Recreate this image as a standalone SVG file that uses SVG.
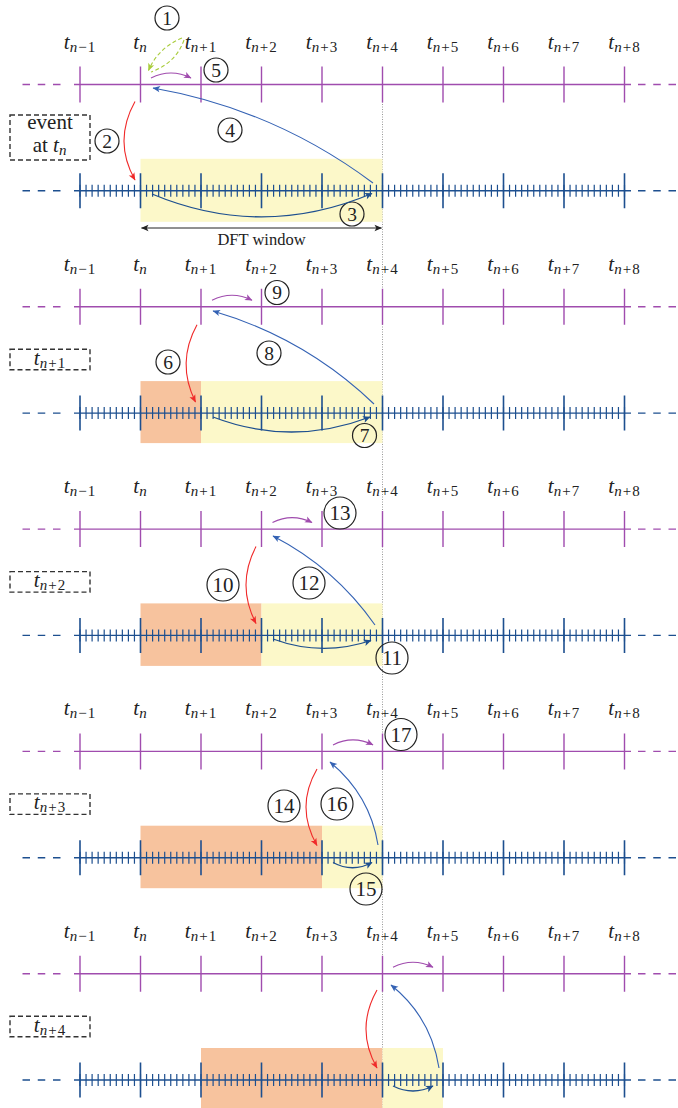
<svg xmlns="http://www.w3.org/2000/svg" xmlns:xlink="http://www.w3.org/1999/xlink" width="678" height="1108" viewBox="0 0 678 1108">
<style>
.p{stroke:#a04cae;stroke-width:1.4;fill:none}
.pd{stroke:#a04cae;stroke-width:1.4;stroke-dasharray:7.5 7.75;fill:none}
.b{stroke:#1d4f8f;stroke-width:1.4;fill:none}
.bd{stroke:#1d4f8f;stroke-width:1.4;stroke-dasharray:7.5 7.75;fill:none}
.bm{stroke:#1d4f8f;stroke-width:12;stroke-dasharray:1.2 4.85;fill:none}
.bM{stroke:#1d4f8f;stroke-width:1.6;fill:none}
.lbl{font-family:"Liberation Serif","Times New Roman",Times,"DejaVu Serif",serif;font-size:21px;text-anchor:middle;fill:#222}
.it{font-style:italic}
.sub{font-size:15px;letter-spacing:1px}
.box{fill:none;stroke:#333;stroke-width:1.4;stroke-dasharray:5 3}
.cn{fill:none;stroke:#222;stroke-width:1.2}
.num{font-family:"Liberation Serif","Times New Roman",Times,"DejaVu Serif",serif;font-size:19.5px;text-anchor:middle;fill:#222}
.num2{font-size:21px}
.dot{stroke:#999;stroke-width:1;stroke-dasharray:1 1.5;fill:none}
.yel{fill:#fcf8c9}
.org{fill:#f7c39e}
.cP{stroke:#a04cae;stroke-width:1.1;fill:none;marker-end:url(#aP)}
.cR{stroke:#f02a2a;stroke-width:1.1;fill:none;marker-end:url(#aR)}
.cB{stroke:#3462b4;stroke-width:1.1;fill:none;marker-end:url(#aB)}
.cN{stroke:#1d4f8f;stroke-width:1.3;fill:none;marker-end:url(#aN)}
.cG{stroke:#a9cc3c;stroke-width:1.1;fill:none;stroke-dasharray:4 2.5}
.cK{stroke:#222;stroke-width:1;fill:none;marker-end:url(#aK);marker-start:url(#aK)}
.dft{font-family:"Liberation Serif","Times New Roman",Times,"DejaVu Serif",serif;font-size:16.5px;text-anchor:middle;fill:#222}
</style>
<defs>
<marker id="aP" viewBox="-1 -4 9 8" refX="7" refY="0" markerWidth="9" markerHeight="8" markerUnits="userSpaceOnUse" orient="auto"><path d="M0,-3.2 L7.5,0 L0,3.2 L1.8,0 z" fill="#a04cae"/></marker>
<marker id="aR" viewBox="-1 -4 9 8" refX="7" refY="0" markerWidth="9" markerHeight="8" markerUnits="userSpaceOnUse" orient="auto"><path d="M0,-3.2 L7.5,0 L0,3.2 L1.8,0 z" fill="#f02a2a"/></marker>
<marker id="aB" viewBox="-1 -4 9 8" refX="7" refY="0" markerWidth="9" markerHeight="8" markerUnits="userSpaceOnUse" orient="auto"><path d="M0,-3.2 L7.5,0 L0,3.2 L1.8,0 z" fill="#3462b4"/></marker>
<marker id="aN" viewBox="-1 -4 9 8" refX="7" refY="0" markerWidth="9" markerHeight="8" markerUnits="userSpaceOnUse" orient="auto"><path d="M0,-3.4 L7.5,0 L0,3.4 L1.8,0 z" fill="#1d4f8f"/></marker>
<marker id="aG" viewBox="-1 -4 9 8" refX="7" refY="0" markerWidth="9" markerHeight="8" markerUnits="userSpaceOnUse" orient="auto"><path d="M0,-3.2 L7.5,0 L0,3.2 L1.8,0 z" fill="#a9cc3c"/></marker>
<marker id="aK" viewBox="-1 -4 9 8" refX="7" refY="0" markerWidth="9" markerHeight="8" markerUnits="userSpaceOnUse" orient="auto-start-reverse"><path d="M0,-3.2 L7.5,0 L0,3.2 L1.8,0 z" fill="#222"/></marker>
<g id="axP">
<path class="pd" d="M22.5,0 H62 M638,0 H678"/>
<path class="p" d="M74,0 H631"/>
<path class="p" d="M80,-18V18M140.5,-18V18M201,-18V18M261.5,-18V18M322,-18V18M382.5,-18V18M443,-18V18M503.5,-18V18M564,-18V18M624.5,-18V18"/>
</g>
<g id="axB">
<path class="bd" d="M22.5,0 H62 M638,0 H678"/>
<path class="b" d="M74,0 H631"/>
<path class="bm" d="M79.4,0 H626"/>
<path class="bM" d="M80,-17.5V17.5M140.5,-17.5V17.5M201,-17.5V17.5M261.5,-17.5V17.5M322,-17.5V17.5M382.5,-17.5V17.5M443,-17.5V17.5M503.5,-17.5V17.5M564,-17.5V17.5M624.5,-17.5V17.5"/>
</g>
</defs>
<rect width="678" height="1108" fill="#fff"/>
<path id="now-line" class="dot" d="M382.5,84 V1108"/>

<!-- Panel 1 -->
<g id="panel-1">
<rect class="yel" x="140.5" y="158.8" width="242" height="63"/>
<use xlink:href="#axP" href="#axP" y="84.5"/>
<use xlink:href="#axB" href="#axB" y="190.8"/>
<g id="labels-1">
<text class="lbl" x="80" y="48.5"><tspan class="it">t</tspan><tspan class="sub" dy="3"><tspan class="it">n</tspan>−1</tspan></text>
<text class="lbl" x="140.5" y="48.5"><tspan class="it">t</tspan><tspan class="sub it" dy="3">n</tspan></text>
<text class="lbl" x="201" y="48.5"><tspan class="it">t</tspan><tspan class="sub" dy="3"><tspan class="it">n</tspan>+1</tspan></text>
<text class="lbl" x="261.5" y="48.5"><tspan class="it">t</tspan><tspan class="sub" dy="3"><tspan class="it">n</tspan>+2</tspan></text>
<text class="lbl" x="322" y="48.5"><tspan class="it">t</tspan><tspan class="sub" dy="3"><tspan class="it">n</tspan>+3</tspan></text>
<text class="lbl" x="382.5" y="48.5"><tspan class="it">t</tspan><tspan class="sub" dy="3"><tspan class="it">n</tspan>+4</tspan></text>
<text class="lbl" x="443" y="48.5"><tspan class="it">t</tspan><tspan class="sub" dy="3"><tspan class="it">n</tspan>+5</tspan></text>
<text class="lbl" x="503.5" y="48.5"><tspan class="it">t</tspan><tspan class="sub" dy="3"><tspan class="it">n</tspan>+6</tspan></text>
<text class="lbl" x="564" y="48.5"><tspan class="it">t</tspan><tspan class="sub" dy="3"><tspan class="it">n</tspan>+7</tspan></text>
<text class="lbl" x="624.5" y="48.5"><tspan class="it">t</tspan><tspan class="sub" dy="3"><tspan class="it">n</tspan>+8</tspan></text>
</g>
<g id="box-1">
<rect class="box" x="10" y="115" width="80" height="45"/>
<text class="lbl" x="50" y="128.5">event</text>
<text class="lbl" x="50" y="151.7">at <tspan class="it">t</tspan><tspan class="sub it" dy="3">n</tspan></text>
</g>
<g id="dft-window">
<text class="dft" x="261.5" y="245">DFT window</text>
</g>
<g id="c1"><circle class="cn" cx="167" cy="18" r="12"/><text class="num" x="167" y="24.5">1</text></g>
<g id="c2"><circle class="cn" cx="107" cy="141" r="12"/><text class="num" x="107" y="147.5">2</text></g>
<g id="c3"><circle class="cn" cx="352" cy="214" r="12"/><text class="num" x="352" y="220.5">3</text></g>
<g id="c4"><circle class="cn" cx="230" cy="130" r="12"/><text class="num" x="230" y="136.5">4</text></g>
<g id="c5"><circle class="cn" cx="216" cy="70" r="12"/><text class="num" x="216" y="76.5">5</text></g>
</g>

<!-- Panel 2 -->
<g id="panel-2">
<rect class="org" x="140.5" y="381.1" width="60.5" height="62"/>
<rect class="yel" x="201" y="381.1" width="181.5" height="62"/>
<use xlink:href="#axP" href="#axP" y="306.8"/>
<use xlink:href="#axB" href="#axB" y="413.1"/>
<g id="labels-2">
<text class="lbl" x="80" y="270.8"><tspan class="it">t</tspan><tspan class="sub" dy="3"><tspan class="it">n</tspan>−1</tspan></text>
<text class="lbl" x="140.5" y="270.8"><tspan class="it">t</tspan><tspan class="sub it" dy="3">n</tspan></text>
<text class="lbl" x="201" y="270.8"><tspan class="it">t</tspan><tspan class="sub" dy="3"><tspan class="it">n</tspan>+1</tspan></text>
<text class="lbl" x="261.5" y="270.8"><tspan class="it">t</tspan><tspan class="sub" dy="3"><tspan class="it">n</tspan>+2</tspan></text>
<text class="lbl" x="322" y="270.8"><tspan class="it">t</tspan><tspan class="sub" dy="3"><tspan class="it">n</tspan>+3</tspan></text>
<text class="lbl" x="382.5" y="270.8"><tspan class="it">t</tspan><tspan class="sub" dy="3"><tspan class="it">n</tspan>+4</tspan></text>
<text class="lbl" x="443" y="270.8"><tspan class="it">t</tspan><tspan class="sub" dy="3"><tspan class="it">n</tspan>+5</tspan></text>
<text class="lbl" x="503.5" y="270.8"><tspan class="it">t</tspan><tspan class="sub" dy="3"><tspan class="it">n</tspan>+6</tspan></text>
<text class="lbl" x="564" y="270.8"><tspan class="it">t</tspan><tspan class="sub" dy="3"><tspan class="it">n</tspan>+7</tspan></text>
<text class="lbl" x="624.5" y="270.8"><tspan class="it">t</tspan><tspan class="sub" dy="3"><tspan class="it">n</tspan>+8</tspan></text>
</g>
<g id="box-2">
<rect class="box" x="10" y="349.3" width="80" height="20.5"/>
<text class="lbl" x="50" y="364.5"><tspan class="it">t</tspan><tspan class="sub" dy="3"><tspan class="it">n</tspan>+1</tspan></text>
</g>
<g id="c6"><circle class="cn" cx="168" cy="362" r="12"/><text class="num" x="168" y="368.5">6</text></g>
<g id="c7"><circle class="cn" cx="364.5" cy="435.5" r="12"/><text class="num" x="364.5" y="442">7</text></g>
<g id="c8"><circle class="cn" cx="269" cy="353" r="12"/><text class="num" x="269" y="359.5">8</text></g>
<g id="c9"><circle class="cn" cx="277" cy="292.5" r="12"/><text class="num" x="277" y="299">9</text></g>
</g>

<!-- Panel 3 -->
<g id="panel-3">
<rect class="org" x="140.5" y="603.4" width="121" height="62.5"/>
<rect class="yel" x="261.5" y="603.4" width="121" height="62.5"/>
<use xlink:href="#axP" href="#axP" y="529.1"/>
<use xlink:href="#axB" href="#axB" y="635.4"/>
<g id="labels-3">
<text class="lbl" x="80" y="493.1"><tspan class="it">t</tspan><tspan class="sub" dy="3"><tspan class="it">n</tspan>−1</tspan></text>
<text class="lbl" x="140.5" y="493.1"><tspan class="it">t</tspan><tspan class="sub it" dy="3">n</tspan></text>
<text class="lbl" x="201" y="493.1"><tspan class="it">t</tspan><tspan class="sub" dy="3"><tspan class="it">n</tspan>+1</tspan></text>
<text class="lbl" x="261.5" y="493.1"><tspan class="it">t</tspan><tspan class="sub" dy="3"><tspan class="it">n</tspan>+2</tspan></text>
<text class="lbl" x="322" y="493.1"><tspan class="it">t</tspan><tspan class="sub" dy="3"><tspan class="it">n</tspan>+3</tspan></text>
<text class="lbl" x="382.5" y="493.1"><tspan class="it">t</tspan><tspan class="sub" dy="3"><tspan class="it">n</tspan>+4</tspan></text>
<text class="lbl" x="443" y="493.1"><tspan class="it">t</tspan><tspan class="sub" dy="3"><tspan class="it">n</tspan>+5</tspan></text>
<text class="lbl" x="503.5" y="493.1"><tspan class="it">t</tspan><tspan class="sub" dy="3"><tspan class="it">n</tspan>+6</tspan></text>
<text class="lbl" x="564" y="493.1"><tspan class="it">t</tspan><tspan class="sub" dy="3"><tspan class="it">n</tspan>+7</tspan></text>
<text class="lbl" x="624.5" y="493.1"><tspan class="it">t</tspan><tspan class="sub" dy="3"><tspan class="it">n</tspan>+8</tspan></text>
</g>
<g id="box-3">
<rect class="box" x="10" y="571.6" width="80" height="20.5"/>
<text class="lbl" x="50" y="586.8"><tspan class="it">t</tspan><tspan class="sub" dy="3"><tspan class="it">n</tspan>+2</tspan></text>
</g>
<g id="c10"><circle class="cn" cx="223" cy="585" r="16"/><text class="num num2" x="223" y="592">10</text></g>
<g id="c11"><circle class="cn" cx="392" cy="658" r="16"/><text class="num num2" x="392" y="665">11</text></g>
<g id="c12"><circle class="cn" cx="309" cy="583" r="16"/><text class="num num2" x="309" y="590">12</text></g>
<g id="c13"><circle class="cn" cx="340" cy="513" r="16"/><text class="num num2" x="340" y="520">13</text></g>
</g>

<!-- Panel 4 -->
<g id="panel-4">
<rect class="org" x="140.5" y="825.7" width="181.5" height="62.5"/>
<rect class="yel" x="322" y="825.7" width="60.5" height="62.5"/>
<use xlink:href="#axP" href="#axP" y="751.4"/>
<use xlink:href="#axB" href="#axB" y="857.7"/>
<g id="labels-4">
<text class="lbl" x="80" y="715.4"><tspan class="it">t</tspan><tspan class="sub" dy="3"><tspan class="it">n</tspan>−1</tspan></text>
<text class="lbl" x="140.5" y="715.4"><tspan class="it">t</tspan><tspan class="sub it" dy="3">n</tspan></text>
<text class="lbl" x="201" y="715.4"><tspan class="it">t</tspan><tspan class="sub" dy="3"><tspan class="it">n</tspan>+1</tspan></text>
<text class="lbl" x="261.5" y="715.4"><tspan class="it">t</tspan><tspan class="sub" dy="3"><tspan class="it">n</tspan>+2</tspan></text>
<text class="lbl" x="322" y="715.4"><tspan class="it">t</tspan><tspan class="sub" dy="3"><tspan class="it">n</tspan>+3</tspan></text>
<text class="lbl" x="382.5" y="715.4"><tspan class="it">t</tspan><tspan class="sub" dy="3"><tspan class="it">n</tspan>+4</tspan></text>
<text class="lbl" x="443" y="715.4"><tspan class="it">t</tspan><tspan class="sub" dy="3"><tspan class="it">n</tspan>+5</tspan></text>
<text class="lbl" x="503.5" y="715.4"><tspan class="it">t</tspan><tspan class="sub" dy="3"><tspan class="it">n</tspan>+6</tspan></text>
<text class="lbl" x="564" y="715.4"><tspan class="it">t</tspan><tspan class="sub" dy="3"><tspan class="it">n</tspan>+7</tspan></text>
<text class="lbl" x="624.5" y="715.4"><tspan class="it">t</tspan><tspan class="sub" dy="3"><tspan class="it">n</tspan>+8</tspan></text>
</g>
<g id="box-4">
<rect class="box" x="10" y="793.9" width="80" height="20.5"/>
<text class="lbl" x="50" y="809.1"><tspan class="it">t</tspan><tspan class="sub" dy="3"><tspan class="it">n</tspan>+3</tspan></text>
</g>
<g id="c14"><circle class="cn" cx="284" cy="806" r="16"/><text class="num num2" x="284" y="813">14</text></g>
<g id="c15"><circle class="cn" cx="366" cy="889" r="16"/><text class="num num2" x="366" y="896">15</text></g>
<g id="c16"><circle class="cn" cx="337" cy="804" r="16"/><text class="num num2" x="337" y="811">16</text></g>
<g id="c17"><circle class="cn" cx="401" cy="734.5" r="16"/><text class="num num2" x="401" y="741.5">17</text></g>
</g>

<!-- Panel 5 -->
<g id="panel-5">
<rect class="org" x="201" y="1048" width="181.5" height="63"/>
<rect class="yel" x="382.5" y="1048" width="60.5" height="63"/>
<use xlink:href="#axP" href="#axP" y="973.7"/>
<use xlink:href="#axB" href="#axB" y="1080"/>
<g id="labels-5">
<text class="lbl" x="80" y="937.7"><tspan class="it">t</tspan><tspan class="sub" dy="3"><tspan class="it">n</tspan>−1</tspan></text>
<text class="lbl" x="140.5" y="937.7"><tspan class="it">t</tspan><tspan class="sub it" dy="3">n</tspan></text>
<text class="lbl" x="201" y="937.7"><tspan class="it">t</tspan><tspan class="sub" dy="3"><tspan class="it">n</tspan>+1</tspan></text>
<text class="lbl" x="261.5" y="937.7"><tspan class="it">t</tspan><tspan class="sub" dy="3"><tspan class="it">n</tspan>+2</tspan></text>
<text class="lbl" x="322" y="937.7"><tspan class="it">t</tspan><tspan class="sub" dy="3"><tspan class="it">n</tspan>+3</tspan></text>
<text class="lbl" x="382.5" y="937.7"><tspan class="it">t</tspan><tspan class="sub" dy="3"><tspan class="it">n</tspan>+4</tspan></text>
<text class="lbl" x="443" y="937.7"><tspan class="it">t</tspan><tspan class="sub" dy="3"><tspan class="it">n</tspan>+5</tspan></text>
<text class="lbl" x="503.5" y="937.7"><tspan class="it">t</tspan><tspan class="sub" dy="3"><tspan class="it">n</tspan>+6</tspan></text>
<text class="lbl" x="564" y="937.7"><tspan class="it">t</tspan><tspan class="sub" dy="3"><tspan class="it">n</tspan>+7</tspan></text>
<text class="lbl" x="624.5" y="937.7"><tspan class="it">t</tspan><tspan class="sub" dy="3"><tspan class="it">n</tspan>+8</tspan></text>
</g>
<g id="box-5">
<rect class="box" x="10" y="1016.3" width="80" height="20.5"/>
<text class="lbl" x="50" y="1031.5"><tspan class="it">t</tspan><tspan class="sub" dy="3"><tspan class="it">n</tspan>+4</tspan></text>
</g>
</g>

<g id="connectors">
<path class="cK" d="M141.5,228 H381.5"/>
<path class="cG" d="M182,38 Q158,48 148.5,70.5" marker-end="url(#aG)"/>
<path class="cG" d="M184,40 Q176,63 151,72"/>
<path class="cP" d="M151,78 Q171,68 191,78"/>
<path class="cR" d="M135,101.5 Q113,141 135,180"/>
<path class="cB" d="M373,183 Q274,109 153,88"/>
<path class="cN" d="M152,194 Q262,240 372,193.5"/>

<path class="cP" d="M212,300.3 Q232,290.3 252,300.3"/>
<path class="cR" d="M197,324.8 Q176,363 195.5,402"/>
<path class="cB" d="M374,404 Q305,338 213,311"/>
<path class="cN" d="M213,417 Q291.5,447 370,417"/>

<path class="cP" d="M272.5,522.6 Q292,512.6 312,522.6"/>
<path class="cR" d="M256,546.5 Q236,585 256,623.5"/>
<path class="cB" d="M375,625 Q335,568 273,536"/>
<path class="cN" d="M273,639 Q322,657 371,640.5"/>

<path class="cP" d="M333,744.9 Q353,734.9 373,744.9"/>
<path class="cR" d="M317,769 Q295,807 317,845.5"/>
<path class="cB" d="M378,845 Q370,795 330,762"/>
<path class="cN" d="M333,862.5 Q352.5,873 372,862.5"/>

<path class="cP" d="M393,967.2 Q413,957.2 433,967.2"/>
<path class="cR" d="M377,990 Q355,1029 377,1068"/>
<path class="cB" d="M439,1068 Q431,1017 391,985"/>
<path class="cN" d="M393,1086 Q413,1096 433,1086"/>
</g>
</svg>
